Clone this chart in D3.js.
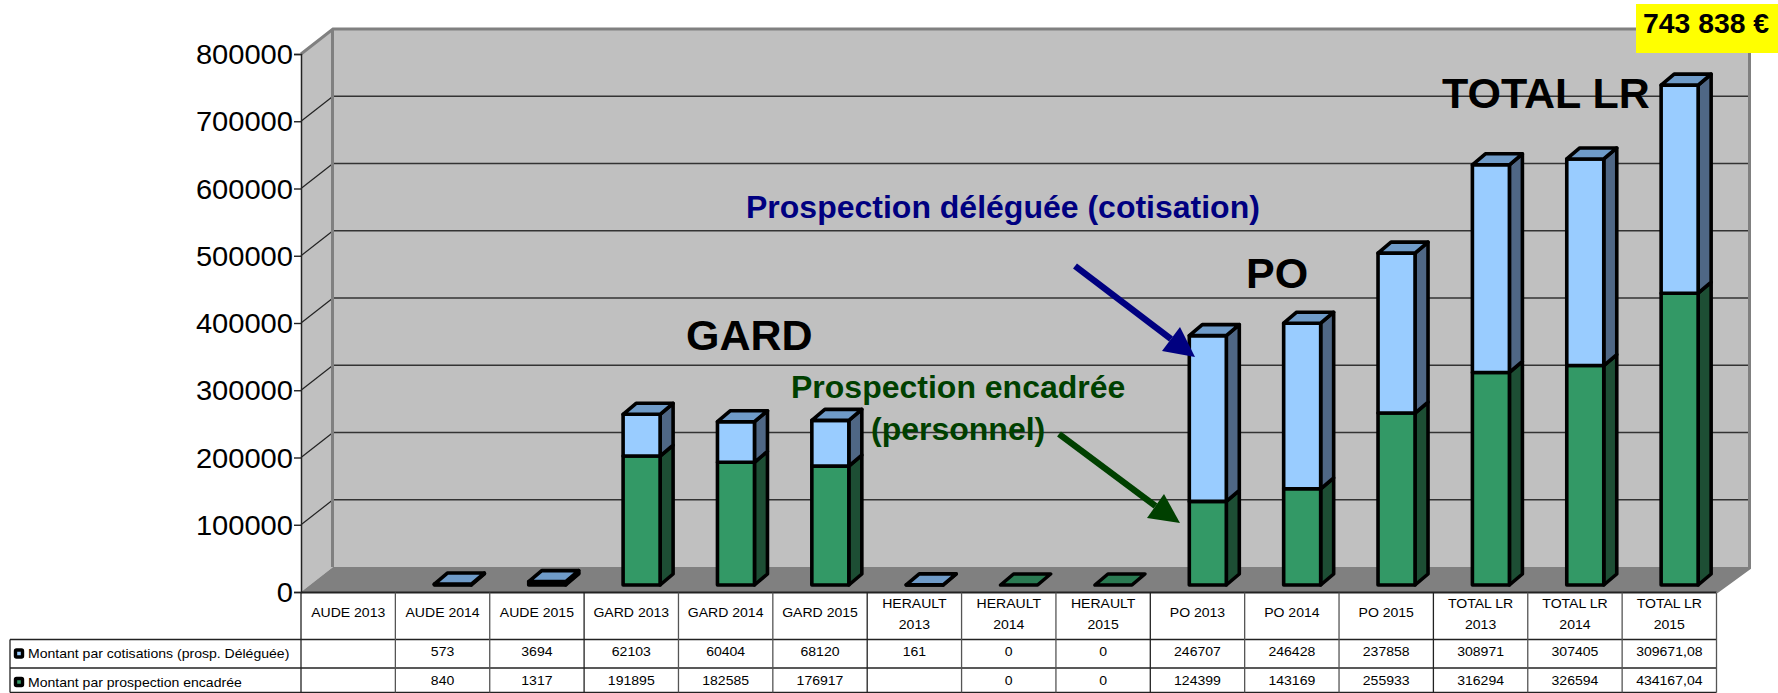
<!DOCTYPE html>
<html><head><meta charset="utf-8">
<script src="https://cdn.jsdelivr.net/npm/d3@7"></script>
<style>html,body{margin:0;padding:0;background:#fff}svg{display:block}text{font-family:"Liberation Sans",Arial,sans-serif}</style>
</head><body><svg id="c" width="1778" height="693"></svg>
<script>
const categories=["AUDE 2013","AUDE 2014","AUDE 2015","GARD 2013","GARD 2014","GARD 2015","HERAULT 2013","HERAULT 2014","HERAULT 2015","PO 2013","PO 2014","PO 2015","TOTAL LR 2013","TOTAL LR 2014","TOTAL LR 2015"];
const cotisations=[null,573,3694,62103,60404,68120,161,0,0,246707,246428,237858,308971,307405,309671.08];
const encadree=[null,840,1317,191895,182585,176917,null,0,0,124399,143169,255933,316294,326594,434167.04];
const cotisationLabels=["","573","3694","62103","60404","68120","161","0","0","246707","246428","237858","308971","307405","309671,08"];
const encadreeLabels=["","840","1317","191895","182585","176917","","0","0","124399","143169","255933","316294","326594","434167,04"];
const seriesNames=["Montant par cotisations (prosp. Déléguée)","Montant par prospection encadrée"];
const yTicks=[0,100000,200000,300000,400000,500000,600000,700000,800000];
const annotations=[
 {t:"GARD",x:686,y:350,fs:43,c:"#000"},
 {t:"PO",x:1246,y:288,fs:43,c:"#000"},
 {t:"TOTAL LR",x:1442,y:108,fs:43,c:"#000"},
 {t:"Prospection déléguée (cotisation)",x:746,y:218,fs:32,c:"#000080"},
 {t:"Prospection encadrée",x:791,y:398,fs:32,c:"#004000"},
 {t:"(personnel)",x:871,y:440,fs:32,c:"#004000"}];

const svg=d3.select("#c");
const L=301,R=1716.5,DX=32,DY=-25,Y0=592,Y8=54;
const x=d3.scaleBand().domain(categories).range([L,R]).padding(0);
const yFront=d3.scaleLinear().domain([0,800000]).range([Y0,Y8]);
const yBack=d3.scaleLinear().domain([0,800000]).range([Y0+DY,Y8+DY]);
const yBar=d3.scaleLinear().domain([0,800000]).range([585,585-537.6]);
const poly=(pts,fill,stroke,sw)=>svg.append("polygon").attr("points",pts.map(p=>p.join(",")).join(" ")).attr("fill",fill).attr("stroke",stroke||"none").attr("stroke-width",sw||0).attr("stroke-linejoin","round");
function txt(s,px,py,fs,opt={}){
  return svg.append("text").text(s).attr("transform",`translate(${px},${py}) scale(${opt.sx||1},1)`)
   .attr("font-size",fs).attr("font-weight",opt.bold?"bold":"normal").attr("fill",opt.c||"#000").attr("text-anchor",opt.anchor||"start");
}
// walls
const xB=R+DX+1;
poly([[L,Y8],[L+DX,Y8+DY],[xB,Y8+DY],[xB,Y0+DY],[L+DX,Y0+DY],[L,Y0]],"#c0c0c0");
poly([[L,Y0],[L+DX,Y0+DY],[xB,Y0+DY],[R,Y0]],"#808080");
// grid
yTicks.slice(1,-1).forEach(v=>{
  svg.append("line").attr("x1",L).attr("y1",yFront(v)).attr("x2",L+DX).attr("y2",yBack(v)).attr("stroke","#222").attr("stroke-width",1.2);
  svg.append("line").attr("x1",L+DX).attr("y1",yBack(v)).attr("x2",xB-1).attr("y2",yBack(v)).attr("stroke","#333").attr("stroke-width",1.6);
});
// wall edges
svg.append("path").attr("d",`M${L},${Y8}L${L+DX},${Y8+DY}H${xB}V${Y0+DY+1}L${R},${Y0}`).attr("fill","none").attr("stroke","#808080").attr("stroke-width",3);
svg.append("line").attr("x1",L+DX-.5).attr("x2",L+DX-.5).attr("y1",Y8+DY).attr("y2",Y0+DY).attr("stroke","#808080").attr("stroke-width",3);
// axis
const ax=svg.append("g").attr("transform",`translate(${L},0)`).call(d3.axisLeft(yFront).tickValues(yTicks).tickFormat(d3.format("d")).tickSize(7).tickPadding(3));
ax.select(".domain").attr("stroke","#222").attr("stroke-width",1.5);
ax.selectAll(".tick line").attr("stroke","#222").attr("stroke-width",1.4);
ax.selectAll(".tick text").remove();
yTicks.forEach(v=>txt(d3.format("d")(v),L-8,yFront(v)+10,28,{anchor:"end",sx:1.04}));
// bars
const BO=39,BW=37,BDX=13,BDY=-11,SW=3.6;
const blue=["#99ccff","#4f6785","#6f9bc8"],green=["#339966","#1d4e34","#2a7a52"];
categories.forEach((c,i)=>{
  const a=encadree[i],b=cotisations[i];
  if(a===null&&b===null)return;
  const x0=x(c)+BO,x1=x0+BW,g=a||0,t=g+(b||0);
  const yb=yBar(0),yg=yBar(g),yt=yBar(t);
  if(g>0){
    poly([[x1,yb],[x1+BDX,yb+BDY],[x1+BDX,yg+BDY],[x1,yg]],green[1],"#000",SW);
    poly([[x0,yb],[x1,yb],[x1,yg],[x0,yg]],green[0],"#000",SW);
  }
  if(b>0){
    poly([[x1,yg],[x1+BDX,yg+BDY],[x1+BDX,yt+BDY],[x1,yt]],blue[1],"#000",SW);
    poly([[x0,yg],[x1,yg],[x1,yt],[x0,yt]],blue[0],"#000",SW);
  }
  poly([[x0,yt],[x1,yt],[x1+BDX,yt+BDY],[x0+BDX,yt+BDY]],b>0?blue[2]:green[2],"#000",SW);
});
// table
const rows=[Y0+.5,639.5,668,692.5],X0=10;
const ln=(x1,y1,x2,y2,c,w)=>svg.append("line").attr("x1",x1).attr("y1",y1).attr("x2",x2).attr("y2",y2).attr("stroke",c||"#222").attr("stroke-width",w||1.3);
ln(L,rows[0],R,rows[0],"#222",2);
ln(X0,rows[1],R,rows[1]);ln(X0,rows[2],R,rows[2]);ln(X0,rows[3],R,rows[3]);
ln(X0,rows[1],X0,rows[3]);
categories.forEach((c,i)=>{ln(x(c),rows[0],x(c),rows[3],i%3===0?"#222":"#555");});
ln(R,rows[0],R,rows[3],"#555");
const TF=13.5,TS=1.04;
categories.forEach((c,i)=>{
  const cx=x(c)+x.bandwidth()/2;
  const parts=c.length>10?[c.slice(0,c.lastIndexOf(" ")),c.slice(c.lastIndexOf(" ")+1)]:[c];
  if(parts.length===1)txt(c,cx,617,TF,{anchor:"middle",sx:TS});
  else{txt(parts[0],cx,608,TF,{anchor:"middle",sx:TS});txt(parts[1],cx,629,TF,{anchor:"middle",sx:TS});}
  txt(cotisationLabels[i],cx,656,TF,{anchor:"middle",sx:TS});
  txt(encadreeLabels[i],cx,685,TF,{anchor:"middle",sx:TS});
});
[[0,blue[0],653.5],[1,green[0],682]].forEach(([k,col,cy])=>{
  svg.append("rect").attr("x",15.5).attr("y",cy-3.5).attr("width",7).attr("height",7).attr("rx",1).attr("fill",col).attr("stroke","#000").attr("stroke-width",3.4);
  txt(seriesNames[k],28,cy+4.5,TF,{sx:TS});
});
// annotations
annotations.forEach(a=>txt(a.t,a.x,a.y,a.fs,{bold:true,c:a.c}));
// arrows
function arrow(x1,y1,x2,y2,h1,h2,c){
  svg.append("line").attr("x1",x1).attr("y1",y1).attr("x2",(h1[0]+h2[0])/2).attr("y2",(h1[1]+h2[1])/2).attr("stroke",c).attr("stroke-width",6.5);
  poly([[x2,y2],h1,h2],c);
}
arrow(1075,266,1195,357,[1180,327],[1162,351],"#000080");
arrow(1059,434,1180,523,[1164,494],[1147,518],"#004000");
// value tag
svg.append("rect").attr("x",1636).attr("y",4).attr("width",142).attr("height",49).attr("fill","#ffff00");
txt("743 838 €",1643,33,27,{bold:true,sx:1.05});
</script></body></html>
